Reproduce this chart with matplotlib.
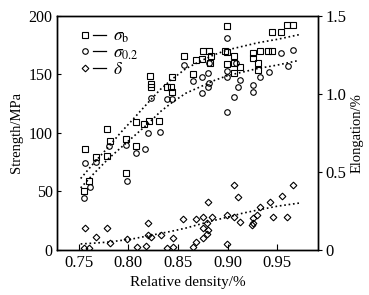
import numpy as np
import matplotlib
matplotlib.use("Agg")
import matplotlib.pyplot as plt
from matplotlib.lines import Line2D
from matplotlib.legend_handler import HandlerTuple

plt.rcParams['font.family'] = ['Liberation Serif', 'DejaVu Serif']
plt.rcParams['mathtext.fontset'] = 'stix'

# sigma_b (squares)
xb = [0.755, 0.760, 0.756, 0.767, 0.779, 0.779, 0.782, 0.798, 0.798, 0.808,
      0.808, 0.816, 0.821, 0.831, 0.822, 0.823, 0.823, 0.839, 0.843, 0.844,
      0.844, 0.856, 0.865, 0.868, 0.874, 0.875, 0.881, 0.883, 0.882, 0.897,
      0.899, 0.899, 0.899, 0.906, 0.906, 0.906, 0.912, 0.925, 0.925, 0.931,
      0.931, 0.933, 0.941, 0.945, 0.945, 0.954, 0.960, 0.966]
yb = [50, 59, 86, 79, 80, 103, 93, 66, 95, 89,
      109, 108, 110, 110, 149, 142, 139, 139, 139, 148,
      135, 166, 150, 162, 163, 170, 170, 166, 160, 170,
      159, 191, 169, 166, 160, 151, 156, 168, 164, 160,
      154, 170, 170, 170, 186, 186, 192, 192]

# sigma_0.2 (circles)
xs = [0.755, 0.756, 0.761, 0.767, 0.781, 0.798, 0.799, 0.808, 0.817, 0.820,
      0.832, 0.823, 0.839, 0.844, 0.856, 0.865, 0.874, 0.874, 0.881, 0.880,
      0.881, 0.880, 0.899, 0.899, 0.899, 0.899, 0.908, 0.912, 0.910, 0.906,
      0.925, 0.925, 0.933, 0.942, 0.954, 0.961, 0.966]
ys = [44, 74, 54, 75, 89, 90, 59, 83, 86, 100,
      101, 130, 129, 129, 158, 144, 148, 134, 160, 151,
      143, 139, 181, 153, 148, 118, 160, 145, 139, 131,
      141, 135, 148, 152, 168, 157, 171]

# elongation (diamonds, right axis)
xd = [0.755, 0.760, 0.756, 0.767, 0.779, 0.782, 0.799, 0.809, 0.818, 0.820,
      0.820, 0.823, 0.833, 0.845, 0.845, 0.839, 0.855, 0.868, 0.875, 0.868,
      0.865, 0.879, 0.875, 0.880, 0.879, 0.875, 0.880, 0.884, 0.899, 0.899,
      0.906, 0.906, 0.910, 0.912, 0.925, 0.925, 0.930, 0.933, 0.943, 0.946,
      0.955, 0.960, 0.966, 0.924]
yd = [0.013, 0.013, 0.141, 0.083, 0.141, 0.045, 0.071, 0.019, 0.026, 0.173,
      0.096, 0.083, 0.096, 0.077, 0.019, 0.013, 0.199, 0.199, 0.212, 0.051,
      0.019, 0.173, 0.141, 0.128, 0.103, 0.077, 0.308, 0.212, 0.224, 0.038,
      0.212, 0.417, 0.340, 0.180, 0.205, 0.173, 0.224, 0.276, 0.308, 0.212,
      0.346, 0.212, 0.417, 0.160]

# fitted trend curves
fit_x = [0.752, 0.765, 0.78, 0.792, 0.804, 0.82, 0.832, 0.844, 0.858, 0.874, 0.887, 0.90, 0.915, 0.93, 0.95, 0.972]
fit_b = [61, 74, 88, 100, 111, 126, 137, 146, 155, 162, 167, 171, 174, 177, 180, 184]
fit_s = [53, 65, 78, 87, 96, 108, 118, 126, 134, 140, 145, 149, 152, 155, 158, 162]
fit_d = [0.038, 0.043, 0.05, 0.06, 0.07, 0.09, 0.105, 0.12, 0.14, 0.168, 0.19, 0.21, 0.235, 0.255, 0.28, 0.30]

fig = plt.figure(figsize=(3.69, 2.95), dpi=100)
ax = fig.add_axes([0.154, 0.153, 0.708, 0.793])
ax2 = ax.twinx()

ms = 4
ax.plot(xb, yb, 's', mfc='none', mec='black', ms=ms, mew=0.8)
ax.plot(xs, ys, 'o', mfc='none', mec='black', ms=ms, mew=0.8)
ax2.plot(xd, yd, 'D', mfc='none', mec='black', ms=3.4, mew=0.8)

ax.plot(fit_x, fit_b, ':', color='black', lw=1.2)
ax.plot(fit_x, fit_s, ':', color='black', lw=1.2)
ax2.plot(fit_x, fit_d, ':', color='black', lw=1.2)

ax.set_xlim(0.728, 0.991)
ax.set_ylim(0, 200)
ax2.set_ylim(0, 1.5)
ax.set_xticks([0.75, 0.80, 0.85, 0.90, 0.95])
ax.set_xticklabels(['0.75', '0.80', '0.85', '0.90', '0.95'])
ax.set_yticks([0, 50, 100, 150, 200])
ax2.set_yticks([0, 0.5, 1.0, 1.5])
ax2.set_yticklabels(['0', '0.5', '1.0', '1.5'])

ax.tick_params(axis='x', direction='in', length=4, labelsize=12, pad=4)
ax.tick_params(axis='y', direction='in', length=3, labelsize=11.5, pad=3)
ax2.tick_params(axis='y', direction='out', length=3, labelsize=12, pad=2)

ax.set_xlabel('Relative density/%', fontsize=11, labelpad=3)
ax.set_ylabel('Strength/MPa', fontsize=10.5, labelpad=4)
ax2.set_ylabel('Elongation/%', fontsize=10.5, labelpad=3)

for a in (ax, ax2):
    for s in a.spines.values():
        s.set_linewidth(1.0)

h_b = (Line2D([], [], marker='s', ls='none', mfc='none', mec='black', ms=ms, mew=0.8),
       Line2D([], [], color='black', lw=0.9))
h_s = (Line2D([], [], marker='o', ls='none', mfc='none', mec='black', ms=ms, mew=0.8),
       Line2D([], [], color='black', lw=0.9))
h_d = (Line2D([], [], marker='D', ls='none', mfc='none', mec='black', ms=3.4, mew=0.8),
       Line2D([], [], color='black', lw=0.9))
ax.legend([h_b, h_s, h_d], [r'$\sigma_{\rm b}$', r'$\sigma_{0.2}$', r'$\delta$'],
          handler_map={tuple: HandlerTuple(ndivide=None, pad=0.1)},
          loc='upper left', bbox_to_anchor=(0.055, 0.975), frameon=False,
          fontsize=12.5, handlelength=1.6, handletextpad=0.4, labelspacing=0.0,
          borderaxespad=0)

fig.savefig('out.png', dpi=100)
